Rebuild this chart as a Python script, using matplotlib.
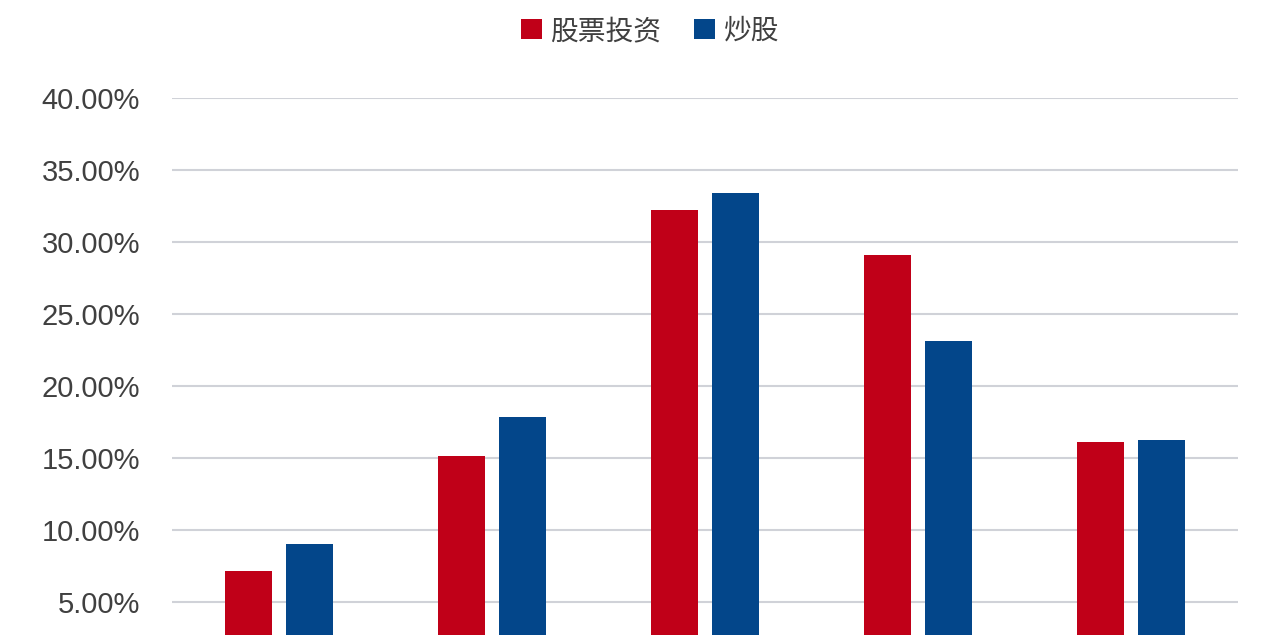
import matplotlib
matplotlib.use("Agg")
import matplotlib.pyplot as plt
import numpy as np
from matplotlib.patches import Patch
from matplotlib.ticker import FuncFormatter

categories = ["A", "B", "C", "D", "E"]
stock_invest = [7.15, 15.15, 32.2, 29.1, 16.1]
chao_gu = [9.05, 17.85, 33.4, 23.1, 16.25]
series_names = ["股票投资", "炒股"]
yticks = [5, 10, 15, 20, 25, 30, 35, 40]

RED = "#C00018"
BLUE = "#03468A"

fig = plt.figure(figsize=(12.78, 6.35), dpi=100)
ax = fig.add_axes([172/1278, 1 - 674/635, (1238-172)/1278, (674-98)/635])

x = np.arange(len(categories))
w = 0.22
off = 0.143
ax.bar(x - off, stock_invest, width=w, color=RED, zorder=3)
ax.bar(x + off, chao_gu, width=w, color=BLUE, zorder=3)

ax.set_xlim(-0.5, len(categories) - 0.5)
ax.set_ylim(0, 40)
ax.set_yticks(yticks)
ax.yaxis.set_major_formatter(FuncFormatter(lambda v, p: f"{v:.2f}%"))
ax.set_xticks([])
ax.grid(axis="y", color="#D0D2D8", lw=1.5, zorder=0)
for s in ax.spines.values():
    s.set_visible(False)
ax.tick_params(axis="both", length=0)
ax.tick_params(axis="y", labelsize=21, labelcolor="#404040", pad=23)
for lbl in ax.get_yticklabels():
    lbl.set_fontfamily(["Liberation Sans", "DejaVu Sans"])

handles = [Patch(facecolor=RED, label=series_names[0]),
           Patch(facecolor=BLUE, label=series_names[1])]
fig.legend(handles=handles, loc="center", bbox_to_anchor=(650/1278, 1 - 31/635),
           ncol=2, frameon=False,
           prop={"family": ["Noto Sans CJK SC", "DejaVu Sans"], "size": 20},
           handlelength=0.75, handleheight=0.75, handletextpad=0.3,
           columnspacing=1.2, labelcolor="#404040")

fig.savefig("out.png", dpi=100, facecolor="white")
